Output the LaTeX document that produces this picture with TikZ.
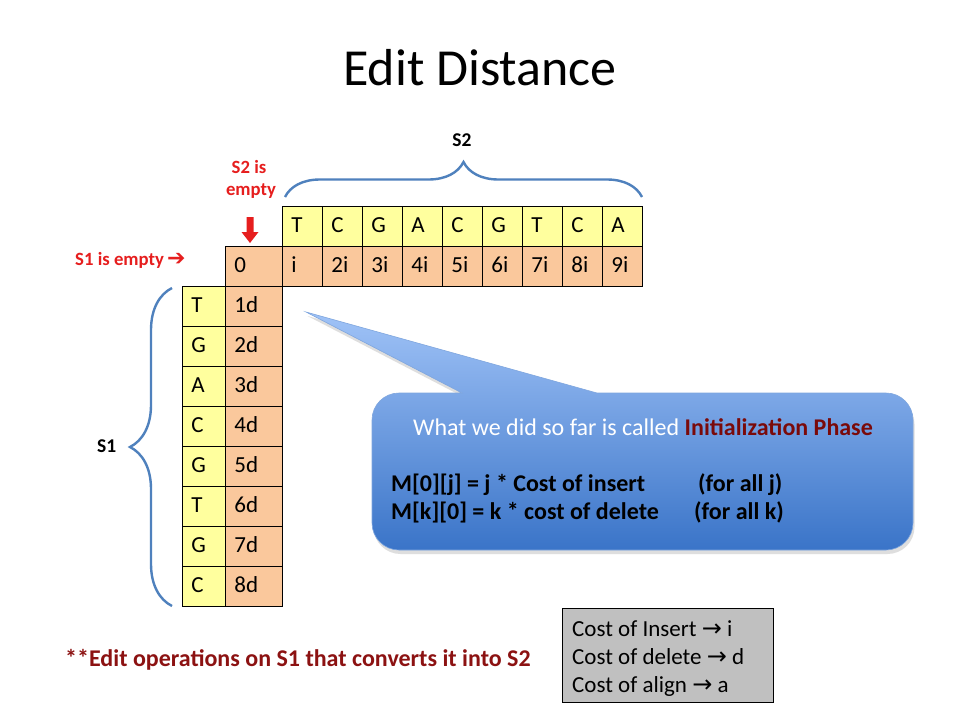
\documentclass[tikz,border=0pt]{standalone}
\usepackage{fontspec}
\setmainfont{Carlito}
\newfontfamily\dejavu{DejaVu Sans}
\usetikzlibrary{decorations.pathreplacing,shadows}
\definecolor{cellY}{HTML}{FFFF9E}
\definecolor{cellO}{HTML}{FAC89C}
\definecolor{braceBlue}{HTML}{4F81BD}
\definecolor{redT}{HTML}{E61E1E}
\definecolor{darkRed}{HTML}{8C1212}
\definecolor{phaseRed}{HTML}{7A0A0A}
\definecolor{calTop}{HTML}{A0C3F7}
\definecolor{calBot}{HTML}{3A74C8}
\definecolor{calEdge}{HTML}{7FA6DE}
\definecolor{boxGray}{HTML}{C0C0C0}
\begin{document}
\begin{tikzpicture}[x=1pt,y=1pt,
  cell/.style={draw=black,line width=0.8pt,minimum height=40pt,inner xsep=9pt,inner ysep=0pt,
    align=left,text height=16pt,text depth=3pt,font=\fontsize{23}{27}\selectfont,anchor=north west},
  ycell/.style={cell,fill=cellY,text width=22pt},
  ocell/.style={cell,fill=cellO,text width=22pt},
  yccell/.style={cell,fill=cellY,text width=25pt},
  occell/.style={cell,fill=cellO,text width=39pt},
  bracestyle/.style={draw=braceBlue,line width=2.4pt,decorate},
  redlab/.style={font=\bfseries\fontsize{18.7}{22}\selectfont,text=redT,inner sep=0pt},
  blab/.style={font=\bfseries\fontsize{19.5}{22}\selectfont,inner sep=0pt},
  caltext/.style={font=\bfseries\fontsize{24}{28}\selectfont,inner sep=0pt,anchor=base west},
  legtext/.style={font=\fontsize{23}{27}\selectfont,inner sep=0pt,anchor=base west}
]
\useasboundingbox[fill=white] (0,0) rectangle (960,-720);

% title
\node[anchor=base,inner sep=0pt,font=\fontsize{52}{60}\selectfont] (title) at (480,-85) {Edit Distance};

% top row S2 letters
\foreach \c [count=\k from 0] in {T,C,G,A,C,G,T,C,A}
  \node[ycell] (s2\k) at ({282+40*\k},-206) {\c};
% first row of matrix
\node[occell] (m0) at (225,-246) {0};
\foreach \t [count=\k] in {i,2i,3i,4i,5i,6i,7i,8i,9i}
  \node[ocell] (r\k) at ({282+40*(\k-1)},-246) {\t};
% first column
\foreach \c [count=\k] in {T,G,A,C,G,T,G,C}{
  \node[yccell] (s1\k) at (182,{-246-40*\k}) {\c};
  \node[occell] (c\k) at (225,{-246-40*\k}) {\k d};
}

% braces
\coordinate (bTl) at (285,-197);
\coordinate (bTr) at (642,-197);
\draw[bracestyle,decoration={brace,amplitude=35pt}] (bTl) -- (bTr);
\coordinate (bLb) at (172,-606);
\coordinate (bLt) at (172,-288);
\draw[bracestyle,decoration={brace,amplitude=42pt}] (bLb) -- (bLt);
\node[blab,anchor=base] (s2lab) at (462,-146) {S2};
\node[blab,anchor=base west] (s1lab) at (97,-452) {S1};

% empty labels
\node[redlab,anchor=base] (s2e1) at (249,-173) {S2 is};
\node[redlab,anchor=base] (s2e2) at (251,-195) {empty};
\node[redlab,anchor=base west] (s1e) at (75,-265) {S1 is empty\,{\dejavu\bfseries\fontsize{22}{24}\selectfont ➔}};
\fill[redT] (246.5,-217) -- (253.5,-217) -- (253.5,-232) -- (258.5,-232) -- (250,-243)
  -- (241.5,-232) -- (246.5,-232) -- cycle;

% callout
\path[drop shadow={shadow xshift=1.5pt,shadow yshift=-4pt,opacity=0.18,fill=black!70},
      top color=calTop,bottom color=calBot,draw=calEdge,line width=0.6pt]
  (462,-393) -- (306,-312) -- (597,-393) -- (886,-393)
  arc[start angle=90,end angle=0,radius=27pt] -- (913,-523)
  arc[start angle=0,end angle=-90,radius=27pt] -- (399,-550)
  arc[start angle=-90,end angle=-180,radius=27pt] -- (372,-420)
  arc[start angle=180,end angle=90,radius=27pt] -- cycle;
\node[anchor=base,inner sep=0pt,font=\fontsize{24}{28}\selectfont,text=white] (cal1) at (643,-435)
  {What we did so far is called \textcolor{phaseRed}{\bfseries Initialization Phase}};
\node[caltext] (cal2) at (391,-491) {M[0][j] = j * Cost of insert};
\node[caltext] (cal2b) at (698,-491) {(for all j)};
\node[caltext] (cal3) at (391,-519) {M[k][0] = k * cost of delete};
\node[caltext] (cal3b) at (694,-519) {(for all k)};

% legend box
\node[draw=black,line width=0.8pt,fill=boxGray,minimum width=211pt,minimum height=94pt,
      inner sep=0pt,anchor=north west] (legend) at (562,-608) {};
\node[legtext] (leg1) at (572,-636) {Cost of Insert {\dejavu\fontsize{24}{28}\selectfont →} i};
\node[legtext] (leg2) at (572,-664) {Cost of delete {\dejavu\fontsize{24}{28}\selectfont →} d};
\node[legtext] (leg3) at (572,-692) {Cost of align {\dejavu\fontsize{24}{28}\selectfont →} a};

% footnote
\node[anchor=base west,inner sep=0pt,font=\bfseries\fontsize{24}{28}\selectfont,text=darkRed] (note) at (65,-666)
  {**Edit operations on S1 that converts it into S2};
\end{tikzpicture}
\end{document}
